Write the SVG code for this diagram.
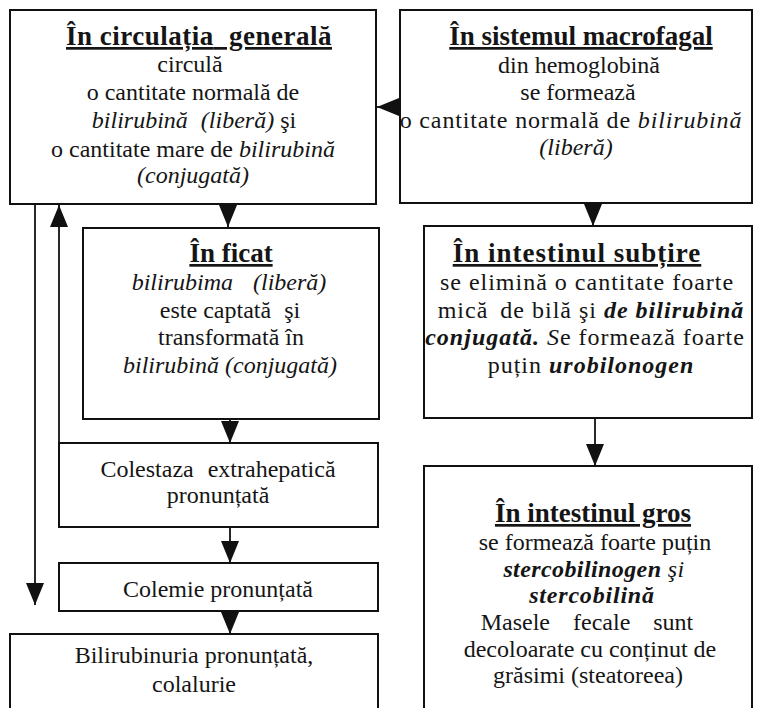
<svg xmlns="http://www.w3.org/2000/svg" width="757" height="708" viewBox="0 0 757 708">
  <style>
    .box { fill: #ffffff; stroke: #111; stroke-width: 2; }
    .link { fill: none; stroke: #111; stroke-width: 1.8; }
    text { font-family: "Liberation Serif", "Times New Roman", serif; font-size: 24px; fill: #151515; text-anchor: middle; }
    .ttl { font-weight: bold; font-size: 27px; text-decoration: underline; }
    .i { font-style: italic; }
    .bi { font-style: italic; font-weight: bold; }
    .wide { letter-spacing: 1px; }
  </style>
  <defs>
    <marker id="head" markerUnits="userSpaceOnUse" markerWidth="22" markerHeight="18" refX="22" refY="9" orient="auto">
      <path d="M0,0 L22,9 L0,18 z" fill="#111"/>
    </marker>
  </defs>
  <rect width="757" height="708" fill="#ffffff"/>

  <!-- connectors -->
  <g id="connectors">
    <path class="link" d="M400,107 L377,107" marker-end="url(#head)"/>
    <path class="link" d="M228,204 L228,227" marker-end="url(#head)"/>
    <path class="link" d="M593,203 L593,226" marker-end="url(#head)"/>
    <path class="link" d="M595,418 L595,466" marker-end="url(#head)"/>
    <path class="link" d="M230,419 L230,443" marker-end="url(#head)"/>
    <path class="link" d="M230,527 L230,563" marker-end="url(#head)"/>
    <path class="link" d="M230,611 L230,634" marker-end="url(#head)"/>
    <path class="link" d="M35,204 L35,605" marker-end="url(#head)"/>
    <path class="link" d="M59,443 L59,205" marker-end="url(#head)"/>
  </g>

  <g id="circulatie">
    <rect class="box" x="10" y="10" width="366" height="194"/>
    <text x="199" y="45" class="ttl" letter-spacing="0.5">În circulația<tspan word-spacing="8"> generală</tspan></text>
    <text x="190" y="72">circulă</text>
    <text x="193" y="100">o cantitate normală de</text>
    <text x="194" y="128"><tspan class="i">bilirubină<tspan word-spacing="7"> (liberă)</tspan></tspan> şi</text>
    <text x="193" y="157">o cantitate mare de <tspan class="i">bilirubină</tspan></text>
    <text x="193" y="183" class="i">(conjugată)</text>
  </g>

  <g id="macrofagal">
    <rect class="box" x="400" y="10" width="352" height="193"/>
    <text x="581" y="45" class="ttl">În sistemul macrofagal</text>
    <text x="579" y="73">din hemoglobină</text>
    <text x="578" y="100">se formează</text>
    <text x="571" y="128" letter-spacing="0.85">o cantitate normală de <tspan class="i">bilirubină</tspan></text>
    <text x="576" y="155" class="i">(liberă)</text>
  </g>

  <g id="ficat">
    <rect class="box" x="83" y="228" width="296" height="191"/>
    <text x="231" y="262" class="ttl">În ficat</text>
    <text x="229" y="290" class="i" word-spacing="14">bilirubima (liberă)</text>
    <text x="230" y="318">este captată<tspan word-spacing="7"> şi</tspan></text>
    <text x="231" y="345">transformată în</text>
    <text x="230" y="373" class="i">bilirubină (conjugată)</text>
  </g>

  <g id="intestin-subtire">
    <rect class="box" x="424" y="226" width="328" height="192"/>
    <text x="577" y="262" class="ttl wide">În intestinul subțire</text>
    <text x="587" y="290" class="wide">se elimină o cantitate foarte</text>
    <text x="591" y="318" class="wide">mică<tspan word-spacing="5"> de</tspan> bilă şi <tspan class="bi">de bilirubină</tspan></text>
    <text x="585" y="345" class="wide"><tspan class="bi">conjugată.</tspan> <tspan class="i">S</tspan>e formează foarte</text>
    <text x="591" y="373" class="wide">puțin <tspan class="bi">urobilonogen</tspan></text>
  </g>

  <g id="intestin-gros">
    <path class="box" d="M424,712 L424,466 L752,466 L752,712"/>
    <text x="593" y="522" class="ttl">În intestinul gros</text>
    <text x="595" y="550">se formează foarte puțin</text>
    <text x="594" y="577" letter-spacing="0.4"><tspan class="bi">stercobilinogen</tspan> <tspan class="i">şi</tspan></text>
    <text x="592" y="603" class="bi" letter-spacing="0.8">stercobilină</text>
    <text x="587" y="630" word-spacing="17">Masele fecale sunt</text>
    <text x="590" y="657">decoloarate cu conținut de</text>
    <text x="588" y="683">grăsimi (steatoreea)</text>
  </g>

  <g id="colestaza">
    <rect class="box" x="59" y="443" width="319" height="84"/>
    <text x="218" y="477" word-spacing="8">Colestaza extrahepatică</text>
    <text x="218" y="503">pronunțată</text>
  </g>

  <g id="colemie">
    <rect class="box" x="59" y="563" width="319" height="48"/>
    <text x="218" y="597">Colemie pronunțată</text>
  </g>

  <g id="bilirubinurie">
    <path class="box" d="M10,712 L10,634 L378,634 L378,712"/>
    <text x="194" y="663">Bilirubinuria pronunțată,</text>
    <text x="194" y="692">colalurie</text>
  </g>
</svg>
